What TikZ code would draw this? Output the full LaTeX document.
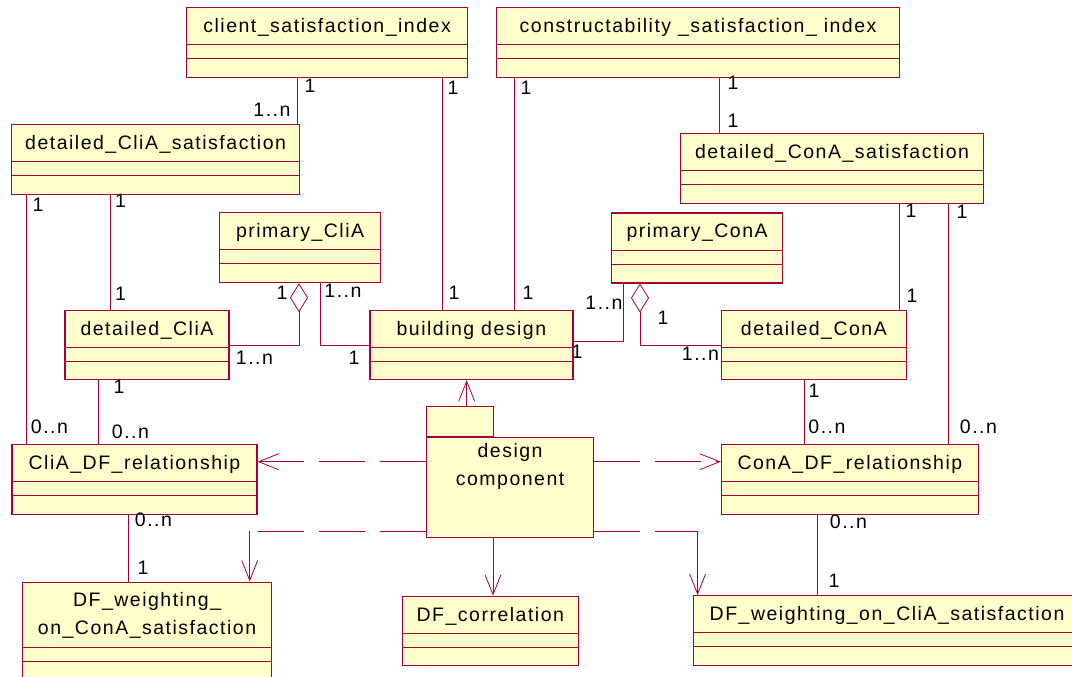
\documentclass[tikz,border=0pt]{standalone}
\usepackage{fontspec}
\setmainfont[LetterSpace=7.7]{Liberation Sans}
\usepackage{tikz}
\usetikzlibrary{
    arrows.meta,
    positioning
}
\definecolor{umlred}{RGB}{165,0,60}
\definecolor{umlyellow}{RGB}{255,255,204}
\tikzset{
    % Colors
    uml line/.style={umlred},
    %
    % Boxes
    class box/.style={draw=umlred, fill=umlyellow, line width=1.2pt, inner sep=0pt,
        anchor=north west, minimum height=70pt, text height=25pt, text depth=45pt,
        path picture={
            \draw[uml line, line width=0.8pt]
                ([yshift=-#1pt]path picture bounding box.north west) -- ([yshift=-#1pt]path picture bounding box.north east)
                ([yshift=-#1pt-14pt]path picture bounding box.north west) -- ([yshift=-#1pt-14pt]path picture bounding box.north east);
        }},
    class box/.default=37,
    package body/.style={draw=umlred, fill=umlyellow, line width=1.2pt, inner sep=0pt,
        anchor=north west, minimum width=167pt, minimum height=100pt, text height=48pt, text depth=52pt},
    package tab/.style={draw=umlred, fill=umlyellow, line width=1.2pt, inner sep=0pt,
        minimum width=67pt, minimum height=30pt},
    %
    % Labels
    mult/.style={inner sep=1pt, text=black},
    %
    % Arrows
    arrow tip/.tip={Straight Barb[length=20pt,width=16pt]},
    assoc/.style={uml line, line width=0.8pt},
    arr/.style={assoc,->,>={arrow tip}},
    dep line/.style={assoc, dash pattern=on 46pt off 15pt},
    dep arr/.style={arr, dash pattern=on 46pt off 15pt},
    aggr/.style={assoc, -{Diamond[open,length=29pt,width=18pt]}},
}
\tikzstyle{every node}=[font=\fontsize{19.5}{28}\selectfont]

\begin{document}
\begin{tikzpicture}[x=1pt,y=-1pt]
    \useasboundingbox (0,0) rectangle (1072,677);
    % classes
    \node[class box, minimum width=281pt] (client) at (186,7) {client\_satisfaction\_index};
    \node[class box, minimum width=403pt] (constr) at (496,7) {constructability \_satisfaction\_ index};
    \node[class box, minimum width=288pt] (detCliSat) at (11,124) {detailed\_CliA\_satisfaction};
    \node[class box, minimum width=303pt] (detConSat) at (680,132.5) {detailed\_ConA\_satisfaction};
    \node[class box, minimum width=161pt] (primCli) at (219,212) {primary\_CliA};
    \node[class box, minimum width=171pt] (primCon) at (611,212.3) {primary\_ConA};
    \node[class box, minimum width=164pt, minimum height=69pt, text depth=44pt] (detCli) at (64.4,310) {detailed\_CliA};
    \node[class box, minimum width=203pt, minimum height=69pt, text depth=44pt] (bldg) at (369.3,310) {building design};
    \node[class box, minimum width=185pt, minimum height=69pt, text depth=44pt] (detCon) at (720.8,310) {detailed\_ConA};
    \node[class box, minimum width=245pt] (cliRel) at (11.4,444) {CliA\_DF\_relationship};
    \node[class box, minimum width=257pt] (conRel) at (720.8,444) {ConA\_DF\_relationship};
    \node[class box=65, minimum width=249pt, minimum height=98pt, text height=52pt, text depth=46pt] (wConA) at (22,581.5)
        {\begin{tabular}[b]{@{}c@{}}DF\_weighting\_\\on\_ConA\_satisfaction\end{tabular}};
    \node[class box, minimum width=176pt, minimum height=69pt, text depth=44pt] (corr) at (401.7,595.7) {DF\_correlation};
    \node[class box, minimum width=388pt] (wCliA) at (692.5,595) {DF\_weighting\_on\_CliA\_satisfaction};
    % package
    \node[package body] (pkg) at (426,437) {\begin{tabular}[b]{@{}c@{}}design\\component\end{tabular}};
    \node[package tab, anchor=south west] (pkgtab) at (pkg.north west) {};

    % associations
    \draw[assoc] (297,0 |- client.south) -- (297,0 |- detCliSat.north)
        node[mult] (m1) at (310,86) {1}
        node[mult] (m2) at (272,110) {1..n};
    \draw[assoc] (442,0 |- client.south) -- (442,0 |- bldg.north)
        node[mult] (m3) at (453,88) {1}
        node[mult] (m4) at (454,293) {1};
    \draw[assoc] (514.5,0 |- constr.south) -- (514.5,0 |- bldg.north)
        node[mult] (m5) at (526,88) {1}
        node[mult] (m6) at (528,293) {1};
    \draw[assoc] (719,0 |- constr.south) -- (719,0 |- detConSat.north)
        node[mult] (m7) at (733,83) {1}
        node[mult] (m8) at (733,121) {1};
    \draw[assoc] (26,0 |- detCliSat.south) -- (26,0 |- cliRel.north)
        node[mult] (m9) at (38,205) {1}
        node[mult] (m10) at (49.5,427) {0..n};
    \draw[assoc] (110,0 |- detCliSat.south) -- (110,0 |- detCli.north)
        node[mult] (m11) at (120.5,201) {1}
        node[mult] (m12) at (120.5,294) {1};
    \draw[assoc] (98,0 |- detCli.south) -- (98,0 |- cliRel.north)
        node[mult] (m13) at (119,387) {1}
        node[mult] (m14) at (130.5,432) {0..n};
    \draw[aggr] (detCli.east) -| (299,0 |- primCli.south)
        node[mult] (m15) at (254.5,358) {1..n}
        node[mult] (m16) at (282,293) {1};
    \draw[assoc] (320,0 |- primCli.south) |- (bldg.west)
        node[mult] (m17) at (343,291) {1..n}
        node[mult] (m18) at (354,358) {1};
    \draw[assoc] ([yshift=3.5pt]bldg.east) -| (623.7,0 |- primCon.south)
        node[mult] (m19) at (577,352) {1}
        node[mult] (m20) at (604,303) {1..n};
    \draw[aggr] (detCon.west) -| (640,0 |- primCon.south)
        node[mult] (m21) at (700.5,354) {1..n}
        node[mult] (m22) at (663,318) {1};
    \draw[assoc] (899,0 |- detConSat.south) -- (899,0 |- detCon.north)
        node[mult] (m23) at (911,211) {1}
        node[mult] (m24) at (912,296) {1};
    \draw[assoc] (948,0 |- detConSat.south) -- (948,0 |- conRel.north)
        node[mult] (m25) at (962,212) {1}
        node[mult] (m26) at (978.5,427) {0..n};
    \draw[assoc] (804,0 |- detCon.south) -- (804,0 |- conRel.north)
        node[mult] (m27) at (814,391) {1}
        node[mult] (m28) at (827,427) {0..n};
    \draw[assoc] (128,0 |- cliRel.south) -- (128,0 |- wConA.north)
        node[mult] (m29) at (153.5,520) {0..n}
        node[mult] (m30) at (143,568) {1};
    \draw[assoc] (817.6,0 |- conRel.south) -- (817.6,0 |- wCliA.north)
        node[mult] (m31) at (848.5,521.7) {0..n}
        node[mult] (m32) at (834,580.7) {1};

    % dependencies
    \coordinate (bendL) at (249.7,531);
    \coordinate (bendR) at (697.6,531);
    \draw[arr] (466.7,0 |- pkgtab.north) -- (466.7,0 |- bldg.south);
    \draw[arr] (493,0 |- pkg.south) -- (493,0 |- corr.north);
    \draw[dep arr] (pkg.west |- 0,461.7) -- (cliRel.east |- 0,461.7);
    \draw[dep arr] (pkg.east |- 0,461.7) -- (conRel.west |- 0,461.7);
    \draw[dep line] (pkg.west |- bendL) -- (bendL);
    \draw[arr] (bendL) -- (bendL |- wConA.north);
    \draw[dep line] (pkg.east |- bendR) -- (bendR);
    \draw[arr] (bendR) -- (bendR |- wCliA.north);
\end{tikzpicture}
\end{document}
